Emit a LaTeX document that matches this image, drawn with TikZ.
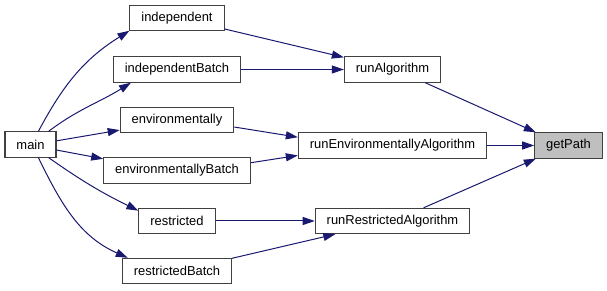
\documentclass[tikz,border=0pt]{standalone}
\usepackage{fontspec}
\setmainfont{Liberation Sans}
\usetikzlibrary{arrows.meta}

\definecolor{edgeblue}{RGB}{25,25,112}
\definecolor{boxgray}{RGB}{64,64,64}
\definecolor{fillgray}{RGB}{191,191,191}

\begin{document}
\begin{tikzpicture}[x=0.75pt, y=0.75pt,
    fn/.style={draw=boxgray, line width=0.8pt, fill=white, minimum height=19pt,
               inner xsep=8.6pt, inner ysep=0pt, font=\fontsize{9.7}{11}\selectfont},
    callee/.style={fn, fill=fillgray},
    call/.style={draw=edgeblue, line width=0.75pt, -{Triangle[length=9pt,width=6pt]}}]
            \useasboundingbox (0,0) rectangle (607,291);

            \coordinate (M) at (30.5,146.5);
            \coordinate (I) at (177,273);
            \coordinate (IB) at (177,221.5);
            \coordinate (E) at (177,171);
            \coordinate (EB) at (177,120.5);
            \coordinate (R) at (177,70);
            \coordinate (RB) at (177,20);
            \coordinate (RA) at (392.5,221.5);
            \coordinate (REA) at (392.5,145.5);
            \coordinate (RRA) at (392.5,70);
            \coordinate (GP) at (568.5,145.5);

            \node[fn] (main) at (M) {main};
            \node[fn] (independent) at (I) {independent};
            \node[fn] (independentBatch) at (IB) {independentBatch};
            \node[fn] (environmentally) at (E) {environmentally};
            \node[fn] (environmentallyBatch) at (EB) {environmentallyBatch};
            \node[fn] (restricted) at (R) {restricted};
            \node[fn] (restrictedBatch) at (RB) {restrictedBatch};
            \node[fn] (runAlgorithm) at (RA) {runAlgorithm};
            \node[fn] (runEnvAlg) at (REA) {runEnvironmentallyAlgorithm};
            \node[fn] (runResAlg) at (RRA) {runRestrictedAlgorithm};
            \node[callee] (getPath) at (GP) {getPath};

            % calls out of main
            \draw[call] (main.59) to[out=62, in=212] (independent.195);
            \draw[call] (main.36) to[out=37, in=212] (independentBatch.196);
            \draw[call] (main.8) -- (environmentally.190);
            \draw[call] (main.-12) -- (environmentallyBatch.171);
            \draw[call] (main.-36) to[out=-35, in=154] (restricted.165);
            \draw[call] (main.-59) to[out=-64, in=156] (restrictedBatch.165);

            % calls into the algorithms
            \draw[call] (independent.-13) -- (runAlgorithm.166);
            \draw[call] (independentBatch.east) -- (runAlgorithm.west);
            \draw[call] (environmentally.-7) -- (runEnvAlg.175.5);
            \draw[call] (environmentallyBatch.6.6) -- (runEnvAlg.186.3);
            \draw[call] (restricted.east) -- (runResAlg.west);
            \draw[call] (restrictedBatch.13) -- (runResAlg.193);

            % calls into getPath
            \draw[call] (runAlgorithm.-22) -- (getPath.158);
            \draw[call] (runEnvAlg.east) -- (getPath.west);
            \draw[call] (runResAlg.23) -- (getPath.202);
        \end{tikzpicture}
\end{document}
